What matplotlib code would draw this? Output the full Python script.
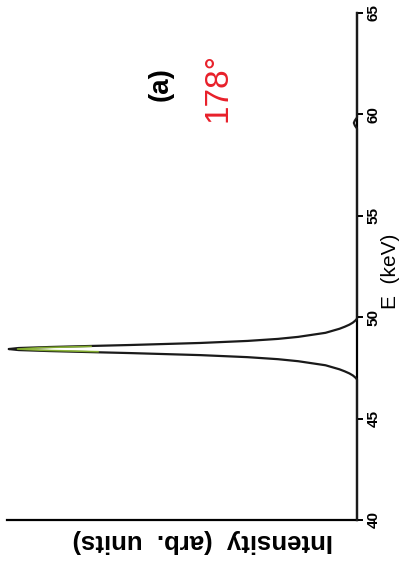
import matplotlib.pyplot as plt
import numpy as np

# spectrum read as energy (keV) vs intensity (arb. units)
energy = [40.0, 46.0, 46.93, 47.03, 47.13, 47.23, 47.33, 47.43, 47.53, 47.63,
          47.73, 47.83, 47.93, 48.03, 48.13, 48.23, 48.28, 48.33, 48.38, 48.43,
          48.48, 48.53, 48.58, 48.63, 48.73, 48.83, 48.93, 49.03, 49.13, 49.23,
          49.33, 49.43, 49.53, 49.63, 49.73, 49.83, 49.93, 52.0, 59.3,
          59.45, 59.58, 59.7, 59.85, 65.0]
intensity = [0.0, 0.0, 0.0, 0.005, 0.012, 0.022, 0.035, 0.05, 0.07, 0.09,
             0.129, 0.168, 0.226, 0.313, 0.447, 0.646, 0.764, 0.879, 0.967, 0.995,
             0.967, 0.879, 0.764, 0.646, 0.447, 0.313, 0.226, 0.168, 0.129, 0.09,
             0.07, 0.05, 0.035, 0.022, 0.012, 0.005, 0.0, 0.0, 0.0,
             0.006, 0.009, 0.006, 0.0, 0.0]

# green trace over the peak top
green_energy = [48.3, 48.37, 48.43, 48.5, 48.56]
green_intensity = [0.74, 0.9, 0.97, 0.9, 0.76]

e_ticks = [40, 45, 50, 55, 60, 65]

plt.rcParams['font.family'] = ['Liberation Sans', 'DejaVu Sans']

fig = plt.figure(figsize=(4.08, 5.71), dpi=100)
ax = fig.add_axes([7/408, 1 - 520/571, 350/408, 507/571])

# page is turned on its side: energy runs up, intensity runs to the left
ax.plot(intensity, energy, color='#1a1a1a', linewidth=1.6, clip_on=False,
        zorder=3, solid_joinstyle='round')
ax.plot(green_intensity, green_energy, color='#9acd32', linewidth=1.2, alpha=0.8, zorder=4)

ax.set_xlim(1.0, 0.0)
ax.set_ylim(40, 65)

ax.spines['top'].set_visible(False)
ax.spines['left'].set_visible(False)
ax.spines['right'].set_linewidth(1.6)
ax.spines['bottom'].set_linewidth(1.6)

ax.set_xticks([])
ax.yaxis.tick_right()
ax.set_yticks(e_ticks)
ax.set_yticklabels([str(t) for t in e_ticks])
ax.tick_params(axis='y', direction='out', length=4.5, width=1.4, pad=2.5,
               labelsize=11)
for lab in ax.get_yticklabels():
    lab.set_rotation(90)
    lab.set_va('center')
    lab.set_ha('left')
    lab.set_fontweight('bold')

fig.text(391/408, 1 - 271/571, 'E  (keV)', rotation=90, fontsize=15,
         ha='center', va='center')
fig.text(203/408, 1 - 541/571, 'Intensity  (arb.  units)', rotation=180,
         fontsize=18.5, fontweight='bold', ha='center', va='center')
fig.text(161/408, 1 - 84/571, '(a)', rotation=90, fontsize=20,
         fontweight='bold', ha='center', va='center')
fig.text(218/408, 1 - 88/571, '178°', rotation=90, fontsize=24,
         color='#e8202a', ha='center', va='center')

fig.savefig('out.png', dpi=100)
